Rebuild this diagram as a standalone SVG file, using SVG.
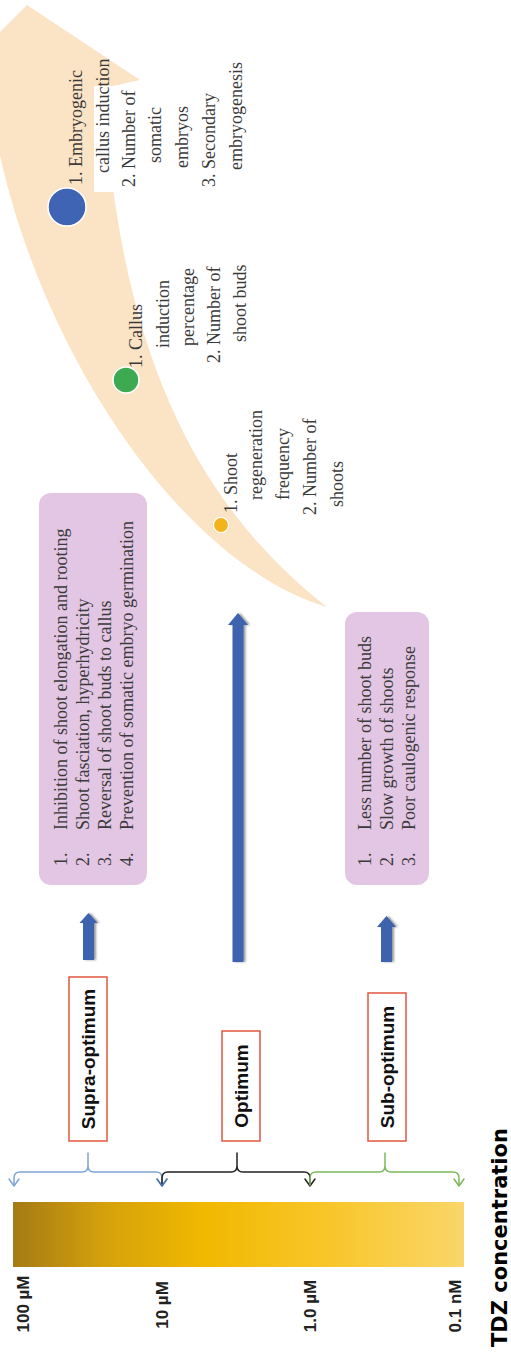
<svg xmlns="http://www.w3.org/2000/svg" width="511" height="1353" viewBox="0 0 511 1353">
<defs>
<linearGradient id="bar" x1="0" y1="0" x2="1" y2="0">
<stop offset="0" stop-color="#A47A14"/>
<stop offset="0.2" stop-color="#D4A10C"/>
<stop offset="0.42" stop-color="#F1B800"/>
<stop offset="0.7" stop-color="#F8C62A"/>
<stop offset="1" stop-color="#FAD66A"/>
</linearGradient>
<filter id="sh" x="-50%" y="-10%" width="200%" height="120%">
<feDropShadow dx="2" dy="0" stdDeviation="1.2" flood-color="#444" flood-opacity="0.55"/>
</filter>
<style>
.ser{font-family:"Liberation Serif","Times New Roman",serif;font-size:18px;fill:#3a3a3a}
.lab{font-family:"Liberation Sans",Arial,sans-serif;font-weight:bold;font-size:19px;fill:#111}
.conc{font-family:"Liberation Sans",Arial,sans-serif;font-weight:bold;font-size:17px;fill:#222}
.ttl{font-family:"DejaVu Sans",Verdana,sans-serif;font-weight:bold;font-size:21px;fill:#000}
.lbox{fill:#fff;stroke:#E2573F;stroke-width:1.5}
.pbox{fill:#E3C6E3}
.barr{fill:#3C62AE;filter:url(#sh)}
.br{fill:none;stroke-width:1.5;stroke-linejoin:round;stroke-linecap:round}
</style>
</defs>
<rect width="511" height="1353" fill="#fff"/>

<g id="curve">
<path d="M27,5 L140,80 L104,88 C120,400 230,530 327,607 C170,560 20,320 -10,100 L-20,52 Z" fill="#FBE4C6"/>
<rect x="94" y="86" width="160" height="106" fill="#fff"/>
</g>

<g id="embryo-node">
<circle cx="67" cy="207" r="19" fill="#3F64B4" stroke="#fff" stroke-width="1.5"/>
<text class="ser" transform="translate(82,185) rotate(-90)">1. Embryogenic</text>
<text class="ser" transform="translate(109,173) rotate(-90)">callus induction</text>
<text class="ser" transform="translate(135,187) rotate(-90)">2. Number of</text>
<text class="ser" transform="translate(161,163) rotate(-90)">somatic</text>
<text class="ser" transform="translate(188,168) rotate(-90)">embryos</text>
<text class="ser" transform="translate(215,187) rotate(-90)">3. Secondary</text>
<text class="ser" transform="translate(242,170) rotate(-90)">embryogenesis</text>
</g>

<g id="callus-node">
<circle cx="126" cy="380" r="13" fill="#3DAA52" stroke="#fff" stroke-width="1.5"/>
<text class="ser" transform="translate(142,368) rotate(-90)">1. Callus</text>
<text class="ser" transform="translate(169,348) rotate(-90)">induction</text>
<text class="ser" transform="translate(194,346) rotate(-90)">percentage</text>
<text class="ser" transform="translate(220,363) rotate(-90)">2. Number of</text>
<text class="ser" transform="translate(246,342) rotate(-90)">shoot buds</text>
</g>

<g id="shoot-node">
<circle cx="221" cy="525" r="7.5" fill="#F2B31B" stroke="#fff" stroke-width="1.2"/>
<text class="ser" transform="translate(237,513) rotate(-90)">1. Shoot</text>
<text class="ser" transform="translate(262,500) rotate(-90)">regeneration</text>
<text class="ser" transform="translate(289,500) rotate(-90)">frequency</text>
<text class="ser" transform="translate(316,515) rotate(-90)">2. Number of</text>
<text class="ser" transform="translate(343,507) rotate(-90)">shoots</text>
</g>

<g id="supra-effects">
<rect class="pbox" x="39" y="493" width="108" height="392" rx="12"/>
<text class="ser" transform="translate(67,866) rotate(-90)">1.</text>
<text class="ser" transform="translate(89,866) rotate(-90)">2.</text>
<text class="ser" transform="translate(111,866) rotate(-90)">3.</text>
<text class="ser" transform="translate(133,866) rotate(-90)">4.</text>
<text class="ser" transform="translate(67,830) rotate(-90)">Inhibition of shoot elongation and rooting</text>
<text class="ser" transform="translate(89,830) rotate(-90)">Shoot fasciation, hyperhydricity</text>
<text class="ser" transform="translate(111,830) rotate(-90)">Reversal of shoot buds to callus</text>
<text class="ser" transform="translate(133,830) rotate(-90)">Prevention of somatic embryo germination</text>
</g>

<g id="sub-effects">
<rect class="pbox" x="345" y="612" width="84" height="273" rx="12"/>
<text class="ser" transform="translate(371,866) rotate(-90)">1.</text>
<text class="ser" transform="translate(393,866) rotate(-90)">2.</text>
<text class="ser" transform="translate(415,866) rotate(-90)">3.</text>
<text class="ser" transform="translate(371,830) rotate(-90)">Less number of shoot buds</text>
<text class="ser" transform="translate(393,830) rotate(-90)">Slow growth of shoots</text>
<text class="ser" transform="translate(415,830) rotate(-90)">Poor caulogenic response</text>
</g>

<g id="supra-label">
<rect class="lbox" x="69" y="977" width="38" height="164"/>
<text class="lab" text-anchor="middle" transform="translate(95,1059) rotate(-90)">Supra-optimum</text>
</g>
<g id="optimum-label">
<rect class="lbox" x="222" y="1031" width="38" height="110"/>
<text class="lab" text-anchor="middle" transform="translate(248,1086) rotate(-90)">Optimum</text>
</g>
<g id="sub-label">
<rect class="lbox" x="368" y="993" width="38" height="148"/>
<text class="lab" text-anchor="middle" transform="translate(394,1067) rotate(-90)">Sub-optimum</text>
</g>

<g id="scale">
<rect x="13" y="1202" width="451" height="65" fill="url(#bar)"/>
<text class="conc" text-anchor="middle" transform="translate(29,1304) rotate(-90)">100 µM</text>
<text class="conc" text-anchor="middle" transform="translate(168,1305) rotate(-90)">10 µM</text>
<text class="conc" text-anchor="middle" transform="translate(316,1306) rotate(-90)">1.0 µM</text>
<text class="conc" text-anchor="middle" transform="translate(461,1306) rotate(-90)">0.1 nM</text>
</g>

<g id="title">
<text class="ttl" transform="translate(507,1347) rotate(-90)">TDZ concentration</text>
</g>

<g id="connectors">
<polygon class="barr" points="83,960 83,923 79.5,923 88.5,913 97.5,923 94,923 94,960"/>
<polygon class="barr" points="232.5,962 232.5,625 228,625 238,613 248,625 243.5,625 243.5,962"/>
<polygon class="barr" points="381,962 381,927 377,927 386.5,916 396,927 392,927 392,962"/>
<g class="br" stroke="#7FA5D5">
<path d="M14,1185 L14,1178 Q14,1172 20,1172 L82,1172 Q88,1172 88,1166 L88,1153 M88,1166 Q88,1172 94,1172 L156,1172 Q162,1172 162,1178 L162,1185"/>
<path d="M9,1179 L14,1186 L19,1179"/>
<path d="M157,1179 L162,1186 L167,1179"/>
</g>
<g class="br" stroke="#222">
<path d="M162,1185 L162,1178 Q162,1172 168,1172 L231,1172 Q237,1172 237,1166 L237,1153 M237,1166 Q237,1172 243,1172 L304,1172 Q310,1172 310,1178 L310,1185"/>
<path d="M305,1179 L310,1186 L315,1179"/>
</g>
<g class="br" stroke="#7DB85B">
<path d="M310,1185 L310,1178 Q310,1172 316,1172 L379,1172 Q385,1172 385,1166 L385,1153 M385,1166 Q385,1172 391,1172 L453,1172 Q459,1172 459,1178 L459,1185"/>
<path d="M454,1179 L459,1186 L464,1179"/>
</g>
<path class="br" stroke="#4F72B0" d="M157,1179 L162,1186 L167,1179"/>
</g>
</svg>
